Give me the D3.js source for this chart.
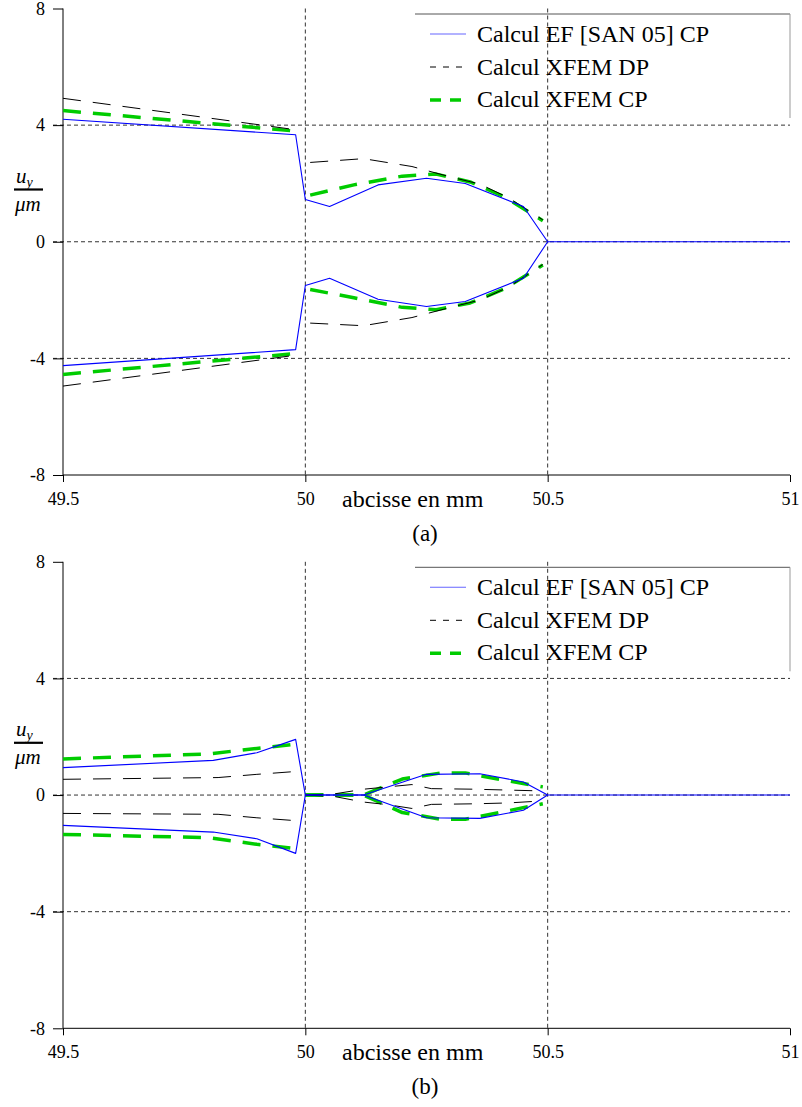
<!DOCTYPE html>
<html>
<head>
<meta charset="utf-8">
<script src="https://cdn.jsdelivr.net/npm/d3@7"></script>
<style>
  html, body { margin: 0; padding: 0; background: #fff; }
  svg { display: block; }
</style>
</head>
<body>
<svg id="chart" width="802" height="1107"></svg>
<script>
// ---------------- DATA ----------------
const xTicks = [49.5, 50, 50.5, 51];
const xTickLabels = ["49.5", "50", "50.5", "51"];
const yTicks = [8, 4, 0, -4, -8];
const yTickLabels = ["8", "4", "0", "-4", "-8"];
const gridY = [4, 0, -4];
const gridX = [50, 50.5];
const legendLabels = ["Calcul EF [SAN 05] CP", "Calcul XFEM DP", "Calcul XFEM CP"];
const xTitle = "abcisse en mm";
const captions = ["(a)", "(b)"];

// Chart (a) — EF [SAN 05] CP (blue)
const aEFUpper = [[49.5, 4.2], [49.98, 3.67], [50.0, 1.45], [50.05, 1.21], [50.15, 1.95], [50.25, 2.18], [50.33, 2.0], [50.45, 1.21], [50.5, 0], [51, 0]];
const aEFLower = [[49.5, -4.25], [49.98, -3.7], [50.0, -1.5], [50.05, -1.25], [50.15, -1.97], [50.25, -2.22], [50.33, -2.05], [50.45, -1.25], [50.5, 0]];
// Chart (a) — XFEM DP (black dashed)
const aDPUpperLeft = [[49.5, 4.92], [49.99, 3.82]];
const aDPUpperRight = [[50.01, 2.72], [50.12, 2.85], [50.22, 2.58], [50.3, 2.22], [50.36, 1.98], [50.42, 1.5], [50.49, 0.75]];
const aDPLowerLeft = [[49.5, -4.95], [49.99, -3.87]];
const aDPLowerRight = [[50.01, -2.79], [50.12, -2.88], [50.22, -2.6], [50.3, -2.25], [50.36, -2.0], [50.42, -1.55], [50.49, -0.78]];
// Chart (a) — XFEM CP (green dashed)
const aCPUpperLeft = [[49.5, 4.5], [49.99, 3.78]];
const aCPUpperRight = [[50.01, 1.6], [50.1, 1.95], [50.2, 2.25], [50.27, 2.32], [50.34, 2.05], [50.41, 1.55], [50.49, 0.72]];
const aCPLowerLeft = [[49.5, -4.55], [49.99, -3.82]];
const aCPLowerRight = [[50.01, -1.64], [50.1, -1.92], [50.2, -2.25], [50.27, -2.33], [50.34, -2.1], [50.41, -1.62], [50.49, -0.8]];

// Chart (b) — EF [SAN 05] CP (blue)
const bEFUpper = [[49.5, 0.94], [49.81, 1.19], [49.9, 1.45], [49.98, 1.91], [50.0, 0], [50.12, 0], [50.25, 0.71], [50.36, 0.73], [50.45, 0.45], [50.5, 0], [51, 0]];
const bEFLower = [[49.5, -1.04], [49.81, -1.27], [49.9, -1.5], [49.98, -2.0], [50.0, 0], [50.12, 0], [50.25, -0.78], [50.36, -0.8], [50.45, -0.52], [50.5, 0]];
// Chart (b) — XFEM DP (black dashed)
const bDPUpperLeft = [[49.5, 0.54], [49.82, 0.6], [49.9, 0.71], [49.99, 0.82]];
const bDPUpperRight = [[50.0, 0], [50.06, 0.04], [50.12, 0.2], [50.17, 0.28], [50.22, 0.36], [50.26, 0.22], [50.35, 0.2], [50.42, 0.17], [50.49, 0.14]];
const bDPLowerLeft = [[49.5, -0.63], [49.82, -0.66], [49.9, -0.78], [49.99, -0.89]];
const bDPLowerRight = [[50.0, 0], [50.06, -0.05], [50.12, -0.24], [50.17, -0.33], [50.22, -0.46], [50.26, -0.32], [50.35, -0.3], [50.42, -0.27], [50.49, -0.2]];
// Chart (b) — XFEM CP (green dashed)
const bCPUpperLeft = [[49.5, 1.24], [49.8, 1.41], [49.9, 1.6], [49.99, 1.76]];
const bCPUpperRight = [[50.0, 0], [50.12, 0], [50.2, 0.55], [50.28, 0.76], [50.33, 0.76], [50.4, 0.54], [50.49, 0.28]];
const bCPLowerLeft = [[49.5, -1.35], [49.8, -1.46], [49.9, -1.69], [49.99, -1.85]];
const bCPLowerRight = [[50.0, 0], [50.12, 0], [50.2, -0.6], [50.28, -0.83], [50.33, -0.83], [50.4, -0.6], [50.49, -0.3]];

// ---------------- DRAWING ----------------
const FONT = "'Liberation Serif', 'Times New Roman', Times, serif";
const svg = d3.select("#chart").style("font-family", FONT);
const X0 = 63, X1 = 790;
const x = d3.scaleLinear().domain([49.5, 51]).range([X0, X1]);

const styles = {
  ef: { stroke: "#0000ff", width: 1.1, dash: null },
  dp: { stroke: "#000", width: 1, dash: "18,12" },
  cp: { stroke: "#00cc00", width: 3.5, dash: "18,12" }
};

function txt(sel) { return sel.style("font-family", FONT).attr("fill", "#000"); }

function drawPanel(offsetY, series, caption) {
  const g = svg.append("g").attr("transform", `translate(0,${offsetY})`);
  const y = d3.scaleLinear().domain([-8, 8]).range([475, 8.5]);

  // grid
  g.selectAll("line.gy").data(gridY).join("line")
    .attr("x1", 53).attr("x2", X1)
    .attr("y1", d => y(d)).attr("y2", d => y(d))
    .attr("stroke", "#333").attr("stroke-width", 1).attr("stroke-dasharray", "4,3");
  g.selectAll("line.gx").data(gridX).join("line")
    .attr("x1", d => x(d)).attr("x2", d => x(d))
    .attr("y1", y(8)).attr("y2", y(-8))
    .attr("stroke", "#333").attr("stroke-width", 1).attr("stroke-dasharray", "4,3");

  // axes
  const yAxis = d3.axisLeft(y).tickValues(yTicks).tickSize(10).tickPadding(8)
    .tickFormat((d, i) => yTickLabels[i]);
  const ya = g.append("g").attr("transform", `translate(${X0},0)`).call(yAxis);
  ya.attr("font-family", null).attr("font-size", null);
  ya.select(".domain").attr("d", `M0,${y(8)}V${y(-8)}`).attr("stroke", "#000");
  txt(ya.selectAll("text")).attr("font-size", 18);

  const xAxis = d3.axisBottom(x).tickValues(xTicks).tickSize(7).tickPadding(10)
    .tickFormat((d, i) => xTickLabels[i]);
  const xa = g.append("g").attr("transform", `translate(0,${y(-8)})`).call(xAxis);
  xa.attr("font-family", null).attr("font-size", null);
  xa.select(".domain").attr("d", `M${X0},0H${X1}`).attr("stroke", "#000");
  txt(xa.selectAll("text")).attr("font-size", 18);

  // axis title
  txt(g.append("text")).attr("x", 342).attr("y", 507).attr("font-size", 24).text(xTitle);
  // caption
  txt(g.append("text")).attr("x", 425).attr("y", 541).attr("text-anchor", "middle").attr("font-size", 23).text(caption);

  // y label u_y / µm
  const yl = g.append("g");
  const t1 = txt(yl.append("text")).attr("x", 16).attr("y", 183).attr("font-size", 21).attr("font-style", "italic");
  t1.append("tspan").text("u");
  t1.append("tspan").attr("font-size", 14).attr("dy", 4).text("y");
  yl.append("line").attr("x1", 14).attr("x2", 43).attr("y1", 189.5).attr("y2", 189.5).attr("stroke", "#000").attr("stroke-width", 2.2);
  txt(yl.append("text")).attr("x", 15).attr("y", 211).attr("font-size", 21).attr("font-style", "italic").text("\u03BCm");

  // curves
  const line = d3.line().x(d => x(d[0])).y(d => y(d[1]));
  series.forEach(s => {
    const st = styles[s.kind];
    g.append("path").attr("d", line(s.data)).attr("fill", "none")
      .attr("stroke", st.stroke).attr("stroke-width", st.width)
      .attr("stroke-dasharray", st.dash).attr("stroke-linejoin", "round");
  });

  // legend
  const lg = g.append("g");
  lg.append("line").attr("x1", 415).attr("x2", X1).attr("y1", 14).attr("y2", 14).attr("stroke", "#555").attr("stroke-width", 1);
  lg.append("line").attr("x1", X1).attr("x2", X1).attr("y1", 14).attr("y2", 118).attr("stroke", "#999").attr("stroke-width", 1);
  const rows = [
    { kind: "ef", ly: 34, ty: 42, dash: null },
    { kind: "dp", ly: 67, ty: 75, dash: "6,7" },
    { kind: "cp", ly: 100, ty: 107, dash: "11,9" }
  ];
  rows.forEach((r, i) => {
    const st = styles[r.kind];
    lg.append("line").attr("x1", 430).attr("x2", 466).attr("y1", r.ly).attr("y2", r.ly)
      .attr("stroke", r.kind === "ef" ? "#6666ff" : st.stroke).attr("stroke-width", st.width)
      .attr("stroke-dasharray", r.dash);
    txt(lg.append("text")).attr("x", 477).attr("y", r.ty).attr("font-size", 24).text(legendLabels[i]);
  });
}

drawPanel(0, [
  { kind: "cp", data: aCPUpperLeft }, { kind: "cp", data: aCPUpperRight },
  { kind: "cp", data: aCPLowerLeft }, { kind: "cp", data: aCPLowerRight },
  { kind: "dp", data: aDPUpperLeft }, { kind: "dp", data: aDPUpperRight },
  { kind: "dp", data: aDPLowerLeft }, { kind: "dp", data: aDPLowerRight },
  { kind: "ef", data: aEFUpper }, { kind: "ef", data: aEFLower }
], captions[0]);

drawPanel(553.3, [
  { kind: "cp", data: bCPUpperLeft }, { kind: "cp", data: bCPUpperRight },
  { kind: "cp", data: bCPLowerLeft }, { kind: "cp", data: bCPLowerRight },
  { kind: "dp", data: bDPUpperLeft }, { kind: "dp", data: bDPUpperRight },
  { kind: "dp", data: bDPLowerLeft }, { kind: "dp", data: bDPLowerRight },
  { kind: "ef", data: bEFUpper }, { kind: "ef", data: bEFLower }
], captions[1]);
</script>
</body>
</html>
